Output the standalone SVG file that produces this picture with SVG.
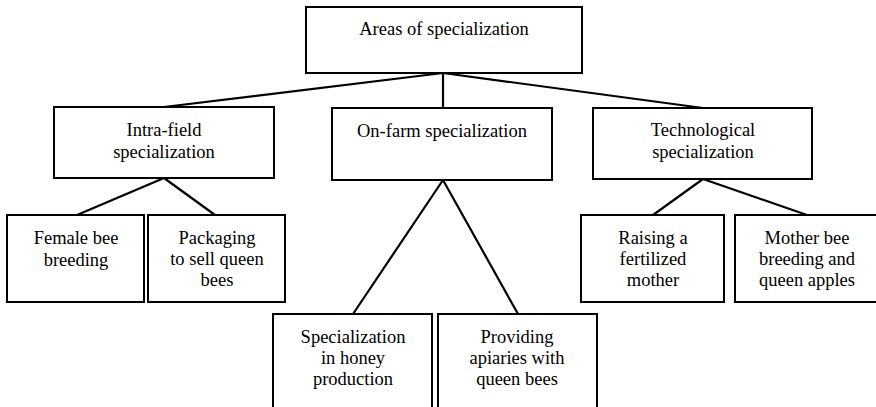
<svg xmlns="http://www.w3.org/2000/svg" width="876" height="407" viewBox="0 0 876 407">
<style>
.box{fill:#fff;stroke:#000;stroke-width:2}
.ln{stroke:#000;stroke-width:2.2;fill:none}
.t{font-family:'Liberation Serif','Times New Roman','DejaVu Serif',serif;font-size:18.5px;fill:#000;text-anchor:middle}
</style>
<rect width="876" height="407" fill="#fff"/>
<g id="connectors">
<line class="ln" x1="443" y1="73" x2="164" y2="107"/>
<line class="ln" x1="443" y1="73" x2="443" y2="108"/>
<line class="ln" x1="443" y1="73" x2="703" y2="108"/>
<line class="ln" x1="164" y1="178" x2="77" y2="215"/>
<line class="ln" x1="164" y1="178" x2="215" y2="215"/>
<line class="ln" x1="443" y1="180" x2="353" y2="314"/>
<line class="ln" x1="443" y1="180" x2="518" y2="314"/>
<line class="ln" x1="703" y1="179" x2="653" y2="215"/>
<line class="ln" x1="703" y1="179" x2="807" y2="215"/>
</g>
<g class="t">
<g id="root"><rect class="box" x="306" y="7" width="276" height="66"/><text x="444" y="35">Areas of specialization</text></g>
<g id="intra"><rect class="box" x="54" y="107" width="220" height="71"/><text x="164" y="136">Intra-field</text><text x="164" y="158">specialization</text></g>
<g id="onfarm"><rect class="box" x="332" y="108" width="220" height="72"/><text x="442" y="137">On-farm specialization</text></g>
<g id="tech"><rect class="box" x="593" y="108" width="219" height="71"/><text x="703" y="136">Technological</text><text x="703" y="158">specialization</text></g>
<g id="female"><rect class="box" x="7" y="215" width="137" height="87"/><text x="76" y="244">Female bee</text><text x="76" y="266">breeding</text></g>
<g id="packaging"><rect class="box" x="148" y="215" width="137" height="87"/><text x="217" y="244">Packaging</text><text x="217" y="265">to sell queen</text><text x="217" y="286">bees</text></g>
<g id="honey"><rect class="box" x="273" y="314" width="159" height="100"/><text x="353" y="343">Specialization</text><text x="353" y="364">in honey</text><text x="353" y="385">production</text></g>
<g id="providing"><rect class="box" x="438" y="314" width="159" height="100"/><text x="517" y="343">Providing</text><text x="517" y="364">apiaries with</text><text x="517" y="385">queen bees</text></g>
<g id="raising"><rect class="box" x="581" y="215" width="143" height="87"/><text x="653" y="244">Raising a</text><text x="653" y="265">fertilized</text><text x="653" y="286">mother</text></g>
<g id="mother"><rect class="box" x="735" y="215" width="144" height="87"/><text x="807" y="244">Mother bee</text><text x="807" y="265">breeding and</text><text x="807" y="286">queen apples</text></g>
</g>
</svg>
